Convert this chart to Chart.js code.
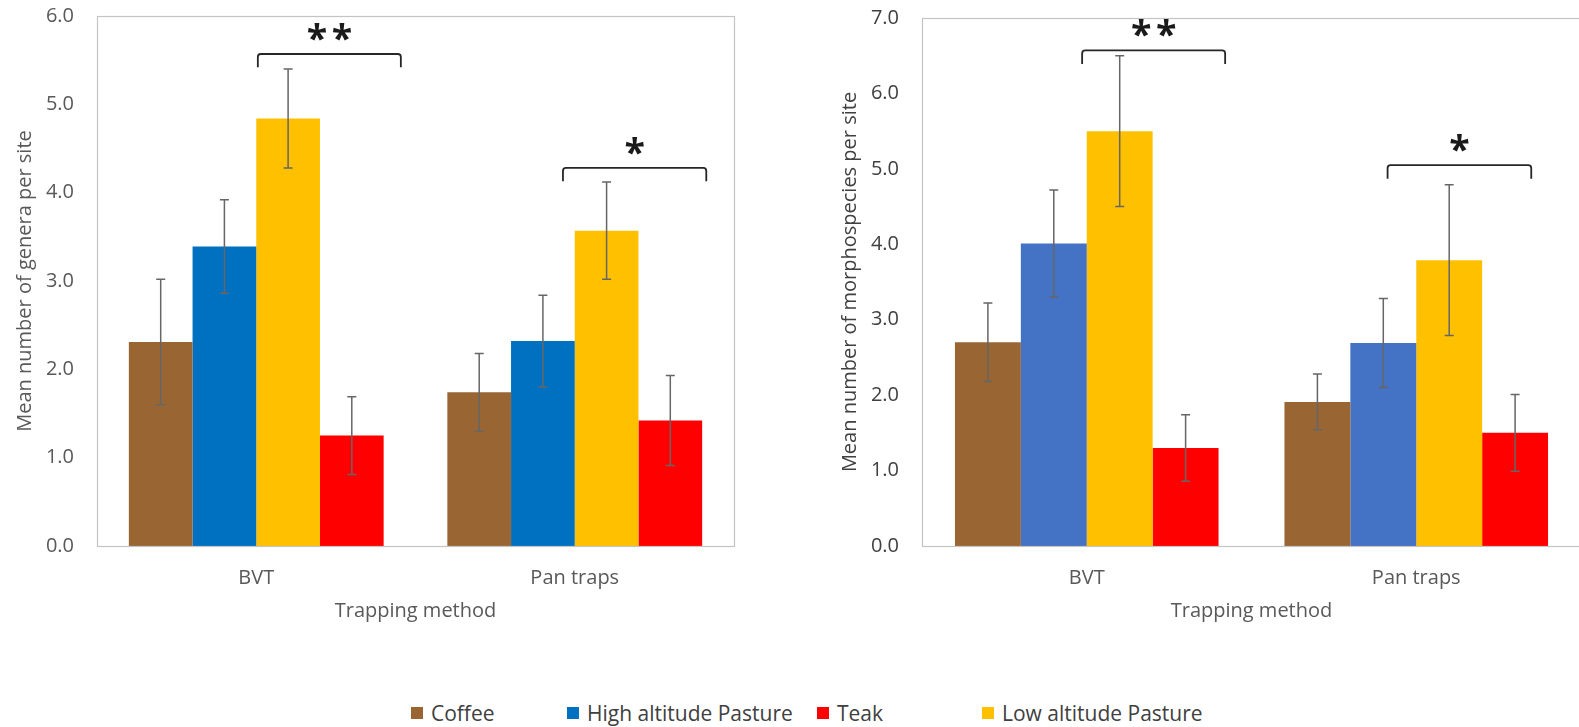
<!DOCTYPE html>
<html>
<head>
<meta charset="utf-8">
<script src="https://cdn.jsdelivr.net/npm/chart.js@4/dist/chart.umd.min.js"></script>
<style>
  html, body { margin: 0; padding: 0; background: #fff; }
  body { width: 1579px; height: 727px; overflow: hidden; position: relative; font-family: "Open Sans", sans-serif; }
  #panelGenera { position: absolute; left: 0; top: 0; width: 760px; height: 640px; }
  #panelMorpho { position: absolute; left: 820px; top: 0; width: 780px; height: 640px; }
  .leg { position: absolute; top: 700px; height: 26px; display: flex; align-items: center;
         font-size: 21px; color: #404040; white-space: nowrap; }
  .leg i { display: inline-block; width: 12px; height: 12px; margin-right: 8px; }
</style>
</head>
<body>
<div id="panelGenera"><canvas id="chartGenera"></canvas></div>
<div id="panelMorpho"><canvas id="chartMorpho"></canvas></div>
<div id="legend"></div>
<script>
// ---- data ----
const categories = ['BVT', 'Pan traps'];
const seriesNames = ['Coffee', 'High altitude Pasture', 'Low altitude Pasture', 'Teak'];
const legendOrder = ['Coffee', 'High altitude Pasture', 'Teak', 'Low altitude Pasture'];

// mean number of genera per site, with error bar half-widths
const generaCoffee = [2.31, 1.74];
const generaCoffeeErr = [0.71, 0.44];
const generaHigh = [3.39, 2.32];
const generaHighErr = [0.53, 0.52];
const generaLow = [4.84, 3.57];
const generaLowErr = [0.56, 0.55];
const generaTeak = [1.25, 1.42];
const generaTeakErr = [0.44, 0.51];

// mean number of morphospecies per site, with error bar half-widths
const morphoCoffee = [2.70, 1.91];
const morphoCoffeeErr = [0.52, 0.37];
const morphoHigh = [4.01, 2.69];
const morphoHighErr = [0.71, 0.59];
const morphoLow = [5.50, 3.79];
const morphoLowErr = [1.00, 1.00];
const morphoTeak = [1.30, 1.50];
const morphoTeakErr = [0.44, 0.51];

const yTicksGenera = [0, 1, 2, 3, 4, 5, 6];
const yTicksMorpho = [0, 1, 2, 3, 4, 5, 6, 7];

// significance brackets: span in category units, heights in axis units
const bracketsGenera = [
  { from: 0.005, to: 0.454, top: 5.57, leg: 5.42, label: '**' },
  { from: 0.963, to: 1.413, top: 4.28, leg: 4.13, label: '*' }
];
const bracketsMorpho = [
  { from: -0.014, to: 0.42, top: 6.57, leg: 6.39, label: '**' },
  { from: 0.913, to: 1.349, top: 5.05, leg: 4.87, label: '*' }
];

// ---- styles ----
const FONT = '"Open Sans", sans-serif';
const colors = {
  'Coffee': '#996633',
  'High altitude Pasture': '#0070C0',
  'Low altitude Pasture': '#FFC000',
  'Teak': '#FF0000'
};

// error bars drawn on top of each bar
const errorBarPlugin = {
  id: 'errorBars',
  afterDatasetsDraw(chart) {
    const { ctx } = chart;
    const y = chart.scales.y;
    ctx.save();
    ctx.strokeStyle = '#666666';
    ctx.lineWidth = 1.5;
    chart.data.datasets.forEach((ds, di) => {
      const meta = chart.getDatasetMeta(di);
      meta.data.forEach((bar, i) => {
        const v = ds.data[i], e = ds.errorBars[i];
        const x = bar.x;
        const yt = y.getPixelForValue(v + e);
        const yb = y.getPixelForValue(v - e);
        ctx.beginPath();
        ctx.moveTo(x, yt); ctx.lineTo(x, yb);
        ctx.moveTo(x - 4.5, yt); ctx.lineTo(x + 4.5, yt);
        ctx.moveTo(x - 4.5, yb); ctx.lineTo(x + 4.5, yb);
        ctx.stroke();
      });
    });
    ctx.restore();
  }
};

// light frame around the plot area
const framePlugin = {
  id: 'frame',
  afterDatasetsDraw(chart) {
    const { ctx, chartArea: a } = chart;
    ctx.save();
    ctx.strokeStyle = '#C4C4C4';
    ctx.lineWidth = 1.2;
    ctx.strokeRect(Math.round(a.left) + 0.5, Math.round(a.top) + 0.5,
                   Math.round(a.right - a.left), Math.round(a.bottom - a.top));
    ctx.restore();
  }
};

// brackets with significance stars
const bracketPlugin = {
  id: 'brackets',
  afterDraw(chart, args, opts) {
    const { ctx } = chart;
    const xs = chart.scales.x, ys = chart.scales.y;
    const x0 = xs.getPixelForValue(0);
    const step = xs.getPixelForValue(1) - x0;
    ctx.save();
    (opts.items || []).forEach(b => {
      const xa = x0 + b.from * step, xb = x0 + b.to * step;
      const yt = ys.getPixelForValue(b.top), yl = ys.getPixelForValue(b.leg);
      const r = 3;
      ctx.strokeStyle = '#262626';
      ctx.lineWidth = 1.8;
      ctx.beginPath();
      ctx.moveTo(xa, yl);
      ctx.lineTo(xa, yt + r);
      ctx.arcTo(xa, yt, xa + r, yt, r);
      ctx.lineTo(xb - r, yt);
      ctx.arcTo(xb, yt, xb, yt + r, r);
      ctx.lineTo(xb, yl);
      ctx.stroke();

      // stars: glyph height ~18px, centred 22px above the bracket
      ctx.font = 'bold 100px ' + FONT;
      let m = ctx.measureText('*');
      const size = 100 * 18 / (m.actualBoundingBoxAscent + m.actualBoundingBoxDescent);
      ctx.font = 'bold ' + size.toFixed(1) + 'px ' + FONT;
      m = ctx.measureText('*');
      const cy = yt - 22;
      const base = cy + (m.actualBoundingBoxAscent - m.actualBoundingBoxDescent) / 2;
      ctx.fillStyle = '#1a1a1a';
      ctx.textAlign = 'center';
      ctx.textBaseline = 'alphabetic';
      const n = b.label.length, gap = 25;
      const cx = (xa + xb) / 2;
      for (let k = 0; k < n; k++) {
        ctx.fillText('*', cx + (k - (n - 1) / 2) * gap, base);
      }
    });
    ctx.restore();
  }
};

function dataset(name, values, errs, color) {
  return {
    label: name,
    data: values,
    errorBars: errs,
    backgroundColor: color || colors[name],
    borderWidth: 0,
    categoryPercentage: 0.8,
    barPercentage: 1.0
  };
}

function makeOptions(cfg) {
  return {
    responsive: true,
    maintainAspectRatio: false,
    animation: false,
    layout: { padding: { left: 0, right: cfg.padRight, top: cfg.padTop, bottom: 17 } },
    plugins: {
      legend: { display: false },
      tooltip: { enabled: false },
      brackets: { items: cfg.brackets }
    },
    scales: {
      x: {
        grid: { display: false, drawTicks: false },
        border: { display: false },
        ticks: { color: '#595959', font: { family: FONT, size: 20 }, padding: 20 },
        title: { display: true, text: 'Trapping method', color: '#595959',
                 font: { family: FONT, size: 20 }, padding: { top: 0, bottom: 0 } },
        afterFit(s) { s.height = 77; }
      },
      y: {
        min: 0,
        max: cfg.ticks[cfg.ticks.length - 1],
        grid: { display: false, drawTicks: false },
        border: { display: false },
        afterBuildTicks(s) { s.ticks = cfg.ticks.map(v => ({ value: v })); },
        ticks: { color: cfg.yColor, font: { family: FONT, size: 20 }, padding: 23,
                 callback: v => Number(v).toFixed(1) },
        title: { display: true, text: cfg.yTitle, color: cfg.yColor,
                 font: { family: FONT, size: 20 }, padding: { top: cfg.titlePad, bottom: 0 } },
        afterFit(s) {
          s.width = cfg.yWidth;
          // tick padding is horizontal spacing here; keep it out of the vertical margins
          s.paddingTop = 0;
          s.paddingBottom = 0;
        }
      }
    }
  };
}

new Chart(document.getElementById('chartGenera'), {
  type: 'bar',
  data: {
    labels: categories,
    datasets: [
      dataset(seriesNames[0], generaCoffee, generaCoffeeErr),
      dataset(seriesNames[1], generaHigh, generaHighErr),
      dataset(seriesNames[2], generaLow, generaLowErr),
      dataset(seriesNames[3], generaTeak, generaTeakErr)
    ]
  },
  options: makeOptions({
    padRight: 26, padTop: 16, yWidth: 97, titlePad: 13,
    ticks: yTicksGenera, yTitle: 'Mean number of genera per site',
    yColor: '#595959', brackets: bracketsGenera
  }),
  plugins: [framePlugin, errorBarPlugin, bracketPlugin]
});

new Chart(document.getElementById('chartMorpho'), {
  type: 'bar',
  data: {
    labels: categories,
    datasets: [
      dataset(seriesNames[0], morphoCoffee, morphoCoffeeErr),
      dataset(seriesNames[1], morphoHigh, morphoHighErr, '#4472C4'),
      dataset(seriesNames[2], morphoLow, morphoLowErr),
      dataset(seriesNames[3], morphoTeak, morphoTeakErr)
    ]
  },
  options: makeOptions({
    padRight: 19, padTop: 18, yWidth: 102, titlePad: 18,
    ticks: yTicksMorpho, yTitle: 'Mean number of morphospecies per site',
    yColor: '#404040', brackets: bracketsMorpho
  }),
  plugins: [framePlugin, errorBarPlugin, bracketPlugin]
});

// shared legend
const legendLefts = [411, 567, 817, 982];
const legendEl = document.getElementById('legend');
legendOrder.forEach((name, i) => {
  const item = document.createElement('div');
  item.className = 'leg';
  item.style.left = legendLefts[i] + 'px';
  const sw = document.createElement('i');
  sw.style.background = colors[name];
  item.appendChild(sw);
  item.appendChild(document.createTextNode(name));
  legendEl.appendChild(item);
});
</script>
</body>
</html>
